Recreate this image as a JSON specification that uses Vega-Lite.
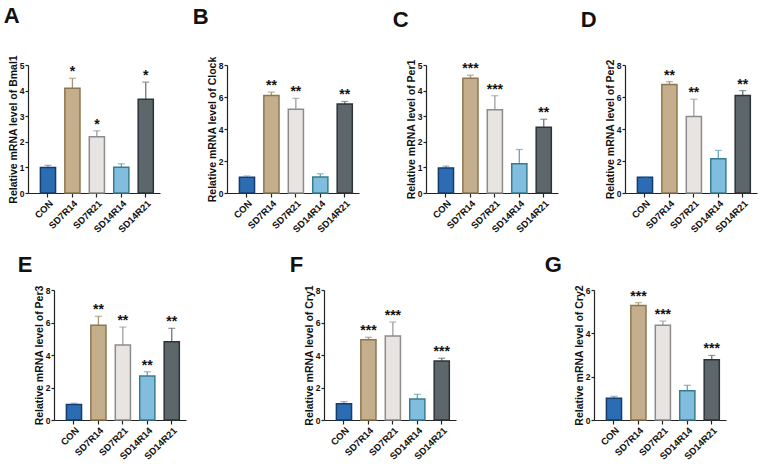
{
  "$schema": "https://vega.github.io/schema/vega-lite/v6.json",
  "padding": {"left": 3, "top": 4, "right": 2, "bottom": 2},
  "background": "white",
  "config": {
    "view": {"stroke": null},
    "font": "Liberation Sans",
    "axis": {"domainColor": "#222", "tickColor": "#222", "labelColor": "#111", "titleColor": "#111", "labelFont": "Liberation Sans", "titleFont": "Liberation Sans", "labelFontSize": 8.5, "labelFontWeight": "bold", "titleFontSize": 10.5, "titleFontWeight": "bold", "tickSize": 3, "labelPadding": 1, "titlePadding": 1, "grid": false, "domainWidth": 1.2, "tickWidth": 1.2, "labelOverlap": false},
    "axisX": {"labelAngle": -45, "tickSize": 4, "labelFontSize": 9.5},
    "title": {"font": "Liberation Sans", "color": "#111"}
  },
  "datasets": {
    "d": [
      {"gene": "Bmal1", "group": "CON", "mean": 1.0, "hi": 1.08, "sig": ""},
      {"gene": "Bmal1", "group": "SD7R14", "mean": 4.09, "hi": 4.48, "sig": "*"},
      {"gene": "Bmal1", "group": "SD7R21", "mean": 2.2, "hi": 2.43, "sig": "*"},
      {"gene": "Bmal1", "group": "SD14R14", "mean": 1.01, "hi": 1.14, "sig": ""},
      {"gene": "Bmal1", "group": "SD14R21", "mean": 3.66, "hi": 4.33, "sig": "*"},
      {"gene": "Clock", "group": "CON", "mean": 0.98, "hi": 1.06, "sig": ""},
      {"gene": "Clock", "group": "SD7R14", "mean": 6.09, "hi": 6.3, "sig": "**"},
      {"gene": "Clock", "group": "SD7R21", "mean": 5.24, "hi": 5.92, "sig": "**"},
      {"gene": "Clock", "group": "SD14R14", "mean": 1.0, "hi": 1.2, "sig": ""},
      {"gene": "Clock", "group": "SD14R21", "mean": 5.57, "hi": 5.72, "sig": "**"},
      {"gene": "Per1", "group": "CON", "mean": 0.98, "hi": 1.05, "sig": ""},
      {"gene": "Per1", "group": "SD7R14", "mean": 4.48, "hi": 4.6, "sig": "***"},
      {"gene": "Per1", "group": "SD7R21", "mean": 3.25, "hi": 3.8, "sig": "***"},
      {"gene": "Per1", "group": "SD14R14", "mean": 1.14, "hi": 1.7, "sig": ""},
      {"gene": "Per1", "group": "SD14R21", "mean": 2.57, "hi": 2.88, "sig": "**"},
      {"gene": "Per2", "group": "CON", "mean": 0.98, "hi": 1.02, "sig": ""},
      {"gene": "Per2", "group": "SD7R14", "mean": 6.78, "hi": 6.96, "sig": "**"},
      {"gene": "Per2", "group": "SD7R21", "mean": 4.78, "hi": 5.86, "sig": "**"},
      {"gene": "Per2", "group": "SD14R14", "mean": 2.14, "hi": 2.66, "sig": ""},
      {"gene": "Per2", "group": "SD14R21", "mean": 6.09, "hi": 6.4, "sig": "**"},
      {"gene": "Per3", "group": "CON", "mean": 0.96, "hi": 1.03, "sig": ""},
      {"gene": "Per3", "group": "SD7R14", "mean": 5.83, "hi": 6.38, "sig": "**"},
      {"gene": "Per3", "group": "SD7R21", "mean": 4.62, "hi": 5.72, "sig": "**"},
      {"gene": "Per3", "group": "SD14R14", "mean": 2.71, "hi": 2.97, "sig": "**"},
      {"gene": "Per3", "group": "SD14R21", "mean": 4.82, "hi": 5.64, "sig": "**"},
      {"gene": "Cry1", "group": "CON", "mean": 1.0, "hi": 1.13, "sig": ""},
      {"gene": "Cry1", "group": "SD7R14", "mean": 4.94, "hi": 5.09, "sig": "***"},
      {"gene": "Cry1", "group": "SD7R21", "mean": 5.17, "hi": 6.03, "sig": "***"},
      {"gene": "Cry1", "group": "SD14R14", "mean": 1.29, "hi": 1.58, "sig": ""},
      {"gene": "Cry1", "group": "SD14R21", "mean": 3.63, "hi": 3.8, "sig": "***"},
      {"gene": "Cry2", "group": "CON", "mean": 1.0, "hi": 1.09, "sig": ""},
      {"gene": "Cry2", "group": "SD7R14", "mean": 5.28, "hi": 5.42, "sig": "***"},
      {"gene": "Cry2", "group": "SD7R21", "mean": 4.37, "hi": 4.57, "sig": "***"},
      {"gene": "Cry2", "group": "SD14R14", "mean": 1.35, "hi": 1.6, "sig": ""},
      {"gene": "Cry2", "group": "SD14R21", "mean": 2.78, "hi": 2.98, "sig": "***"}
    ]
  },
  "spacing": 19,
  "vconcat": [
    {
      "hconcat": [
        {
          "width": 132, "height": 128,
          "data": {"name": "d"},
          "title": {"text": "A", "anchor": "start", "frame": "bounds", "fontSize": 22, "fontWeight": "bold", "baseline": "alphabetic", "offset": 10, "dx": -4.5},
          "transform": [{"filter": "datum.gene === 'Bmal1'"}],
          "encoding": {"x": {"field": "group", "type": "nominal", "sort": ["CON", "SD7R14", "SD7R21", "SD14R14", "SD14R21"], "title": null, "scale": {"paddingInner": 0.38, "paddingOuter": 0.39, "align": 0.65}}},
          "layer": [
            {"mark": {"type": "rule", "strokeWidth": 1.3}, "encoding": {"y": {"field": "mean", "type": "quantitative", "title": "Relative mRNA level of Bmal1", "scale": {"domain": [0, 5], "nice": false}, "axis": {"values": [0, 1, 2, 3, 4, 5]}}, "y2": {"field": "hi"}, "color": {"field": "group", "type": "nominal", "scale": {"domain": ["CON", "SD7R14", "SD7R21", "SD14R14", "SD14R21"], "range": ["#6f95c0", "#a8946f", "#9e9e9e", "#6aa3bb", "#6f777b"]}, "legend": null}}},
            {"mark": {"type": "bar", "strokeWidth": 1.5}, "encoding": {"y": {"field": "mean", "type": "quantitative", "title": "Relative mRNA level of Bmal1", "scale": {"domain": [0, 5], "nice": false}, "axis": {"values": [0, 1, 2, 3, 4, 5]}}, "fill": {"field": "group", "type": "nominal", "scale": {"domain": ["CON", "SD7R14", "SD7R21", "SD14R14", "SD14R21"], "range": ["#2b6cb2", "#c4ae8b", "#e8e4e1", "#80bddf", "#5c666b"]}, "legend": null}, "stroke": {"field": "group", "type": "nominal", "scale": {"domain": ["CON", "SD7R14", "SD7R21", "SD14R14", "SD14R21"], "range": ["#163c6b", "#8c7751", "#8c8c8c", "#3a7c8f", "#2d3437"]}, "legend": null}}},
            {"mark": {"type": "tick", "size": 7, "thickness": 1.3}, "encoding": {"y": {"field": "hi", "type": "quantitative", "title": "Relative mRNA level of Bmal1", "scale": {"domain": [0, 5], "nice": false}, "axis": {"values": [0, 1, 2, 3, 4, 5]}}, "color": {"field": "group", "type": "nominal", "scale": {"domain": ["CON", "SD7R14", "SD7R21", "SD14R14", "SD14R21"], "range": ["#6f95c0", "#a8946f", "#9e9e9e", "#6aa3bb", "#6f777b"]}, "legend": null}}},
            {"mark": {"type": "text", "fontSize": 14, "fontWeight": "bold", "baseline": "alphabetic", "dy": -2, "color": "#111"}, "encoding": {"y": {"field": "hi", "type": "quantitative", "title": "Relative mRNA level of Bmal1", "scale": {"domain": [0, 5], "nice": false}, "axis": {"values": [0, 1, 2, 3, 4, 5]}}, "text": {"field": "sig"}}}
          ]
        },
        {
          "width": 132, "height": 128,
          "data": {"name": "d"},
          "title": {"text": "B", "anchor": "start", "frame": "bounds", "fontSize": 22, "fontWeight": "bold", "baseline": "alphabetic", "offset": 10, "dx": -14.5},
          "transform": [{"filter": "datum.gene === 'Clock'"}],
          "encoding": {"x": {"field": "group", "type": "nominal", "sort": ["CON", "SD7R14", "SD7R21", "SD14R14", "SD14R21"], "title": null, "scale": {"paddingInner": 0.38, "paddingOuter": 0.39, "align": 0.65}}},
          "layer": [
            {"mark": {"type": "rule", "strokeWidth": 1.3}, "encoding": {"y": {"field": "mean", "type": "quantitative", "title": "Relative mRNA level of Clock", "scale": {"domain": [0, 8], "nice": false}, "axis": {"values": [0, 2, 4, 6, 8]}}, "y2": {"field": "hi"}, "color": {"field": "group", "type": "nominal", "scale": {"domain": ["CON", "SD7R14", "SD7R21", "SD14R14", "SD14R21"], "range": ["#6f95c0", "#a8946f", "#9e9e9e", "#6aa3bb", "#6f777b"]}, "legend": null}}},
            {"mark": {"type": "bar", "strokeWidth": 1.5}, "encoding": {"y": {"field": "mean", "type": "quantitative", "title": "Relative mRNA level of Clock", "scale": {"domain": [0, 8], "nice": false}, "axis": {"values": [0, 2, 4, 6, 8]}}, "fill": {"field": "group", "type": "nominal", "scale": {"domain": ["CON", "SD7R14", "SD7R21", "SD14R14", "SD14R21"], "range": ["#2b6cb2", "#c4ae8b", "#e8e4e1", "#80bddf", "#5c666b"]}, "legend": null}, "stroke": {"field": "group", "type": "nominal", "scale": {"domain": ["CON", "SD7R14", "SD7R21", "SD14R14", "SD14R21"], "range": ["#163c6b", "#8c7751", "#8c8c8c", "#3a7c8f", "#2d3437"]}, "legend": null}}},
            {"mark": {"type": "tick", "size": 7, "thickness": 1.3}, "encoding": {"y": {"field": "hi", "type": "quantitative", "title": "Relative mRNA level of Clock", "scale": {"domain": [0, 8], "nice": false}, "axis": {"values": [0, 2, 4, 6, 8]}}, "color": {"field": "group", "type": "nominal", "scale": {"domain": ["CON", "SD7R14", "SD7R21", "SD14R14", "SD14R21"], "range": ["#6f95c0", "#a8946f", "#9e9e9e", "#6aa3bb", "#6f777b"]}, "legend": null}}},
            {"mark": {"type": "text", "fontSize": 14, "fontWeight": "bold", "baseline": "alphabetic", "dy": -2, "color": "#111"}, "encoding": {"y": {"field": "hi", "type": "quantitative", "title": "Relative mRNA level of Clock", "scale": {"domain": [0, 8], "nice": false}, "axis": {"values": [0, 2, 4, 6, 8]}}, "text": {"field": "sig"}}}
          ]
        },
        {
          "width": 132, "height": 128,
          "data": {"name": "d"},
          "title": {"text": "C", "anchor": "start", "frame": "bounds", "fontSize": 22, "fontWeight": "bold", "baseline": "alphabetic", "offset": 10, "dx": -13.5},
          "transform": [{"filter": "datum.gene === 'Per1'"}],
          "encoding": {"x": {"field": "group", "type": "nominal", "sort": ["CON", "SD7R14", "SD7R21", "SD14R14", "SD14R21"], "title": null, "scale": {"paddingInner": 0.38, "paddingOuter": 0.39, "align": 0.65}}},
          "layer": [
            {"mark": {"type": "rule", "strokeWidth": 1.3}, "encoding": {"y": {"field": "mean", "type": "quantitative", "title": "Relative mRNA level of Per1", "scale": {"domain": [0, 5], "nice": false}, "axis": {"values": [0, 1, 2, 3, 4, 5]}}, "y2": {"field": "hi"}, "color": {"field": "group", "type": "nominal", "scale": {"domain": ["CON", "SD7R14", "SD7R21", "SD14R14", "SD14R21"], "range": ["#6f95c0", "#a8946f", "#9e9e9e", "#6aa3bb", "#6f777b"]}, "legend": null}}},
            {"mark": {"type": "bar", "strokeWidth": 1.5}, "encoding": {"y": {"field": "mean", "type": "quantitative", "title": "Relative mRNA level of Per1", "scale": {"domain": [0, 5], "nice": false}, "axis": {"values": [0, 1, 2, 3, 4, 5]}}, "fill": {"field": "group", "type": "nominal", "scale": {"domain": ["CON", "SD7R14", "SD7R21", "SD14R14", "SD14R21"], "range": ["#2b6cb2", "#c4ae8b", "#e8e4e1", "#80bddf", "#5c666b"]}, "legend": null}, "stroke": {"field": "group", "type": "nominal", "scale": {"domain": ["CON", "SD7R14", "SD7R21", "SD14R14", "SD14R21"], "range": ["#163c6b", "#8c7751", "#8c8c8c", "#3a7c8f", "#2d3437"]}, "legend": null}}},
            {"mark": {"type": "tick", "size": 7, "thickness": 1.3}, "encoding": {"y": {"field": "hi", "type": "quantitative", "title": "Relative mRNA level of Per1", "scale": {"domain": [0, 5], "nice": false}, "axis": {"values": [0, 1, 2, 3, 4, 5]}}, "color": {"field": "group", "type": "nominal", "scale": {"domain": ["CON", "SD7R14", "SD7R21", "SD14R14", "SD14R21"], "range": ["#6f95c0", "#a8946f", "#9e9e9e", "#6aa3bb", "#6f777b"]}, "legend": null}}},
            {"mark": {"type": "text", "fontSize": 14, "fontWeight": "bold", "baseline": "alphabetic", "dy": -2, "color": "#111"}, "encoding": {"y": {"field": "hi", "type": "quantitative", "title": "Relative mRNA level of Per1", "scale": {"domain": [0, 5], "nice": false}, "axis": {"values": [0, 1, 2, 3, 4, 5]}}, "text": {"field": "sig"}}}
          ]
        },
        {
          "width": 132, "height": 128,
          "data": {"name": "d"},
          "title": {"text": "D", "anchor": "start", "frame": "bounds", "fontSize": 22, "fontWeight": "bold", "baseline": "alphabetic", "offset": 10, "dx": -24.5},
          "transform": [{"filter": "datum.gene === 'Per2'"}],
          "encoding": {"x": {"field": "group", "type": "nominal", "sort": ["CON", "SD7R14", "SD7R21", "SD14R14", "SD14R21"], "title": null, "scale": {"paddingInner": 0.38, "paddingOuter": 0.39, "align": 0.65}}},
          "layer": [
            {"mark": {"type": "rule", "strokeWidth": 1.3}, "encoding": {"y": {"field": "mean", "type": "quantitative", "title": "Relative mRNA level of Per2", "scale": {"domain": [0, 8], "nice": false}, "axis": {"values": [0, 2, 4, 6, 8]}}, "y2": {"field": "hi"}, "color": {"field": "group", "type": "nominal", "scale": {"domain": ["CON", "SD7R14", "SD7R21", "SD14R14", "SD14R21"], "range": ["#6f95c0", "#a8946f", "#9e9e9e", "#6aa3bb", "#6f777b"]}, "legend": null}}},
            {"mark": {"type": "bar", "strokeWidth": 1.5}, "encoding": {"y": {"field": "mean", "type": "quantitative", "title": "Relative mRNA level of Per2", "scale": {"domain": [0, 8], "nice": false}, "axis": {"values": [0, 2, 4, 6, 8]}}, "fill": {"field": "group", "type": "nominal", "scale": {"domain": ["CON", "SD7R14", "SD7R21", "SD14R14", "SD14R21"], "range": ["#2b6cb2", "#c4ae8b", "#e8e4e1", "#80bddf", "#5c666b"]}, "legend": null}, "stroke": {"field": "group", "type": "nominal", "scale": {"domain": ["CON", "SD7R14", "SD7R21", "SD14R14", "SD14R21"], "range": ["#163c6b", "#8c7751", "#8c8c8c", "#3a7c8f", "#2d3437"]}, "legend": null}}},
            {"mark": {"type": "tick", "size": 7, "thickness": 1.3}, "encoding": {"y": {"field": "hi", "type": "quantitative", "title": "Relative mRNA level of Per2", "scale": {"domain": [0, 8], "nice": false}, "axis": {"values": [0, 2, 4, 6, 8]}}, "color": {"field": "group", "type": "nominal", "scale": {"domain": ["CON", "SD7R14", "SD7R21", "SD14R14", "SD14R21"], "range": ["#6f95c0", "#a8946f", "#9e9e9e", "#6aa3bb", "#6f777b"]}, "legend": null}}},
            {"mark": {"type": "text", "fontSize": 14, "fontWeight": "bold", "baseline": "alphabetic", "dy": -2, "color": "#111"}, "encoding": {"y": {"field": "hi", "type": "quantitative", "title": "Relative mRNA level of Per2", "scale": {"domain": [0, 8], "nice": false}, "axis": {"values": [0, 2, 4, 6, 8]}}, "text": {"field": "sig"}}}
          ]
        }
      ],
      "spacing": 67,
      "bounds": "flush"
    },
    {
      "hconcat": [
        {"width": 26, "height": 10, "data": {"values": []}, "mark": {"type": "point", "opacity": 0}, "encoding": {}},
        {
          "hconcat": [
            {
              "width": 132, "height": 130,
              "data": {"name": "d"},
              "title": {"text": "E", "anchor": "start", "frame": "bounds", "fontSize": 22, "fontWeight": "bold", "baseline": "alphabetic", "offset": -9, "dx": -16.5},
              "transform": [{"filter": "datum.gene === 'Per3'"}],
              "encoding": {"x": {"field": "group", "type": "nominal", "sort": ["CON", "SD7R14", "SD7R21", "SD14R14", "SD14R21"], "title": null, "scale": {"paddingInner": 0.38, "paddingOuter": 0.39, "align": 0.65}}},
              "layer": [
                {"mark": {"type": "rule", "strokeWidth": 1.3}, "encoding": {"y": {"field": "mean", "type": "quantitative", "title": "Relative mRNA level of Per3", "scale": {"domain": [0, 8], "nice": false}, "axis": {"values": [0, 2, 4, 6, 8]}}, "y2": {"field": "hi"}, "color": {"field": "group", "type": "nominal", "scale": {"domain": ["CON", "SD7R14", "SD7R21", "SD14R14", "SD14R21"], "range": ["#6f95c0", "#a8946f", "#9e9e9e", "#6aa3bb", "#6f777b"]}, "legend": null}}},
                {"mark": {"type": "bar", "strokeWidth": 1.5}, "encoding": {"y": {"field": "mean", "type": "quantitative", "title": "Relative mRNA level of Per3", "scale": {"domain": [0, 8], "nice": false}, "axis": {"values": [0, 2, 4, 6, 8]}}, "fill": {"field": "group", "type": "nominal", "scale": {"domain": ["CON", "SD7R14", "SD7R21", "SD14R14", "SD14R21"], "range": ["#2b6cb2", "#c4ae8b", "#e8e4e1", "#80bddf", "#5c666b"]}, "legend": null}, "stroke": {"field": "group", "type": "nominal", "scale": {"domain": ["CON", "SD7R14", "SD7R21", "SD14R14", "SD14R21"], "range": ["#163c6b", "#8c7751", "#8c8c8c", "#3a7c8f", "#2d3437"]}, "legend": null}}},
                {"mark": {"type": "tick", "size": 7, "thickness": 1.3}, "encoding": {"y": {"field": "hi", "type": "quantitative", "title": "Relative mRNA level of Per3", "scale": {"domain": [0, 8], "nice": false}, "axis": {"values": [0, 2, 4, 6, 8]}}, "color": {"field": "group", "type": "nominal", "scale": {"domain": ["CON", "SD7R14", "SD7R21", "SD14R14", "SD14R21"], "range": ["#6f95c0", "#a8946f", "#9e9e9e", "#6aa3bb", "#6f777b"]}, "legend": null}}},
                {"mark": {"type": "text", "fontSize": 14, "fontWeight": "bold", "baseline": "alphabetic", "dy": -2, "color": "#111"}, "encoding": {"y": {"field": "hi", "type": "quantitative", "title": "Relative mRNA level of Per3", "scale": {"domain": [0, 8], "nice": false}, "axis": {"values": [0, 2, 4, 6, 8]}}, "text": {"field": "sig"}}}
              ]
            },
            {
              "width": 132, "height": 130,
              "data": {"name": "d"},
              "title": {"text": "F", "anchor": "start", "frame": "bounds", "fontSize": 22, "fontWeight": "bold", "baseline": "alphabetic", "offset": -9, "dx": -14.5},
              "transform": [{"filter": "datum.gene === 'Cry1'"}],
              "encoding": {"x": {"field": "group", "type": "nominal", "sort": ["CON", "SD7R14", "SD7R21", "SD14R14", "SD14R21"], "title": null, "scale": {"paddingInner": 0.38, "paddingOuter": 0.39, "align": 0.65}}},
              "layer": [
                {"mark": {"type": "rule", "strokeWidth": 1.3}, "encoding": {"y": {"field": "mean", "type": "quantitative", "title": "Relative mRNA level of Cry1", "scale": {"domain": [0, 8], "nice": false}, "axis": {"values": [0, 2, 4, 6, 8]}}, "y2": {"field": "hi"}, "color": {"field": "group", "type": "nominal", "scale": {"domain": ["CON", "SD7R14", "SD7R21", "SD14R14", "SD14R21"], "range": ["#6f95c0", "#a8946f", "#9e9e9e", "#6aa3bb", "#6f777b"]}, "legend": null}}},
                {"mark": {"type": "bar", "strokeWidth": 1.5}, "encoding": {"y": {"field": "mean", "type": "quantitative", "title": "Relative mRNA level of Cry1", "scale": {"domain": [0, 8], "nice": false}, "axis": {"values": [0, 2, 4, 6, 8]}}, "fill": {"field": "group", "type": "nominal", "scale": {"domain": ["CON", "SD7R14", "SD7R21", "SD14R14", "SD14R21"], "range": ["#2b6cb2", "#c4ae8b", "#e8e4e1", "#80bddf", "#5c666b"]}, "legend": null}, "stroke": {"field": "group", "type": "nominal", "scale": {"domain": ["CON", "SD7R14", "SD7R21", "SD14R14", "SD14R21"], "range": ["#163c6b", "#8c7751", "#8c8c8c", "#3a7c8f", "#2d3437"]}, "legend": null}}},
                {"mark": {"type": "tick", "size": 7, "thickness": 1.3}, "encoding": {"y": {"field": "hi", "type": "quantitative", "title": "Relative mRNA level of Cry1", "scale": {"domain": [0, 8], "nice": false}, "axis": {"values": [0, 2, 4, 6, 8]}}, "color": {"field": "group", "type": "nominal", "scale": {"domain": ["CON", "SD7R14", "SD7R21", "SD14R14", "SD14R21"], "range": ["#6f95c0", "#a8946f", "#9e9e9e", "#6aa3bb", "#6f777b"]}, "legend": null}}},
                {"mark": {"type": "text", "fontSize": 14, "fontWeight": "bold", "baseline": "alphabetic", "dy": -2, "color": "#111"}, "encoding": {"y": {"field": "hi", "type": "quantitative", "title": "Relative mRNA level of Cry1", "scale": {"domain": [0, 8], "nice": false}, "axis": {"values": [0, 2, 4, 6, 8]}}, "text": {"field": "sig"}}}
              ]
            },
            {
              "width": 132, "height": 130,
              "data": {"name": "d"},
              "title": {"text": "G", "anchor": "start", "frame": "bounds", "fontSize": 22, "fontWeight": "bold", "baseline": "alphabetic", "offset": -9, "dx": -29.5},
              "transform": [{"filter": "datum.gene === 'Cry2'"}],
              "encoding": {"x": {"field": "group", "type": "nominal", "sort": ["CON", "SD7R14", "SD7R21", "SD14R14", "SD14R21"], "title": null, "scale": {"paddingInner": 0.38, "paddingOuter": 0.39, "align": 0.65}}},
              "layer": [
                {"mark": {"type": "rule", "strokeWidth": 1.3}, "encoding": {"y": {"field": "mean", "type": "quantitative", "title": "Relative mRNA level of Cry2", "scale": {"domain": [0, 6], "nice": false}, "axis": {"values": [0, 2, 4, 6]}}, "y2": {"field": "hi"}, "color": {"field": "group", "type": "nominal", "scale": {"domain": ["CON", "SD7R14", "SD7R21", "SD14R14", "SD14R21"], "range": ["#6f95c0", "#a8946f", "#9e9e9e", "#6aa3bb", "#6f777b"]}, "legend": null}}},
                {"mark": {"type": "bar", "strokeWidth": 1.5}, "encoding": {"y": {"field": "mean", "type": "quantitative", "title": "Relative mRNA level of Cry2", "scale": {"domain": [0, 6], "nice": false}, "axis": {"values": [0, 2, 4, 6]}}, "fill": {"field": "group", "type": "nominal", "scale": {"domain": ["CON", "SD7R14", "SD7R21", "SD14R14", "SD14R21"], "range": ["#2b6cb2", "#c4ae8b", "#e8e4e1", "#80bddf", "#5c666b"]}, "legend": null}, "stroke": {"field": "group", "type": "nominal", "scale": {"domain": ["CON", "SD7R14", "SD7R21", "SD14R14", "SD14R21"], "range": ["#163c6b", "#8c7751", "#8c8c8c", "#3a7c8f", "#2d3437"]}, "legend": null}}},
                {"mark": {"type": "tick", "size": 7, "thickness": 1.3}, "encoding": {"y": {"field": "hi", "type": "quantitative", "title": "Relative mRNA level of Cry2", "scale": {"domain": [0, 6], "nice": false}, "axis": {"values": [0, 2, 4, 6]}}, "color": {"field": "group", "type": "nominal", "scale": {"domain": ["CON", "SD7R14", "SD7R21", "SD14R14", "SD14R21"], "range": ["#6f95c0", "#a8946f", "#9e9e9e", "#6aa3bb", "#6f777b"]}, "legend": null}}},
                {"mark": {"type": "text", "fontSize": 14, "fontWeight": "bold", "baseline": "alphabetic", "dy": -2, "color": "#111"}, "encoding": {"y": {"field": "hi", "type": "quantitative", "title": "Relative mRNA level of Cry2", "scale": {"domain": [0, 6], "nice": false}, "axis": {"values": [0, 2, 4, 6]}}, "text": {"field": "sig"}}}
              ]
            }
          ],
          "spacing": 138,
          "bounds": "flush"
        }
      ],
      "spacing": 0,
      "bounds": "flush"
    }
  ]
}
